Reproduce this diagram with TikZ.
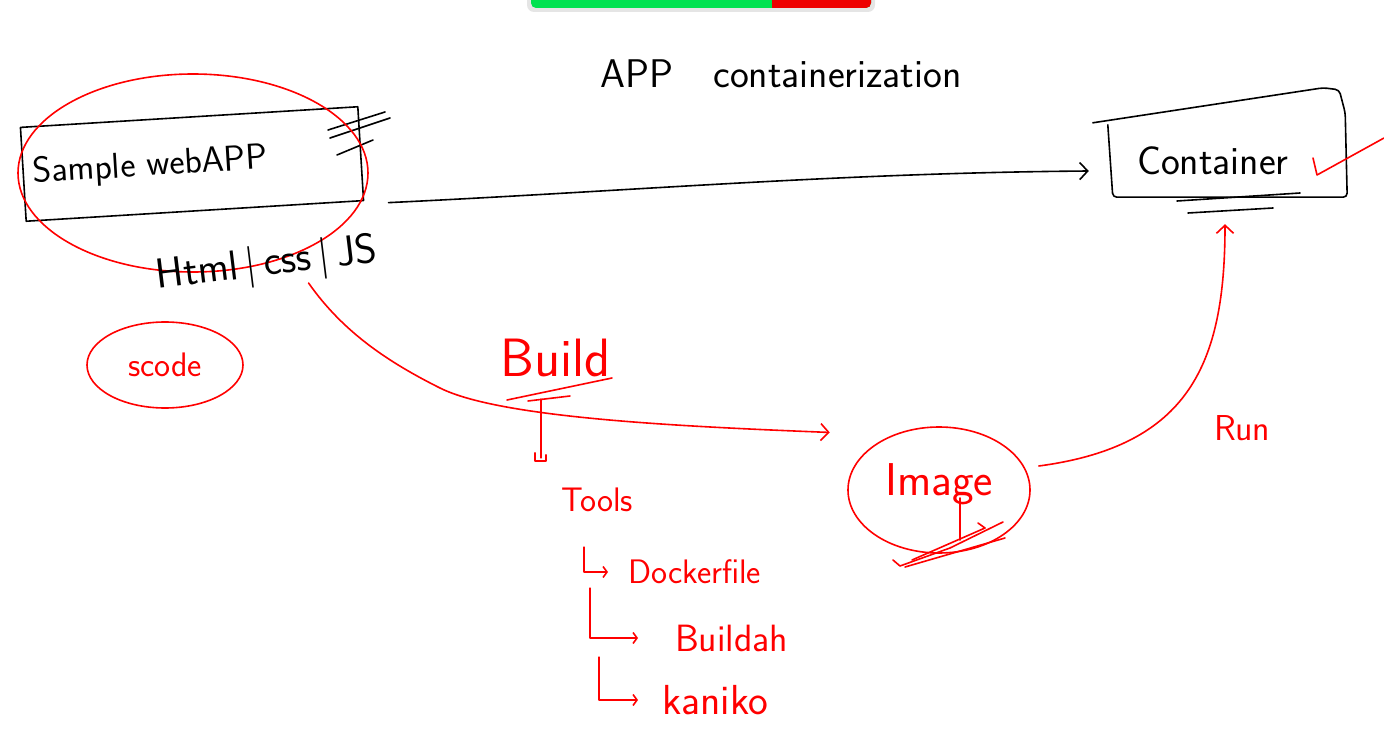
\documentclass[tikz,border=0pt]{standalone}
\usetikzlibrary{positioning,calc,arrows.meta,shapes.geometric}

\definecolor{sharegreen}{RGB}{0,226,80}
\definecolor{sharered}{RGB}{238,0,0}
\newcommand{\handfont}[1]{\sffamily\fontsize{#1}{#1}\selectfont}

\begin{document}
\begin{tikzpicture}[x=1pt,y=-1pt,
  ink/.style={line width=1.6pt,line cap=round,line join=round},
  blackink/.style={ink,black},
  redink/.style={ink,red},
  note/.style={inner sep=0pt},
  barb/.style={-{Straight Barb[length=8pt,width=17pt]}},
  smallbarb/.style={-{Straight Barb[length=4pt,width=11pt]}}]

\useasboundingbox (0,0) rectangle (1384,743);

% Screen sharing bar, cut by the top edge.
\fill[black!10,rounded corners=7pt] (527,-20) rectangle (875,12);
\fill[sharegreen,rounded corners=5pt] (531,-20) rectangle (871,8);
\fill[sharered,rounded corners=5pt] (772,-20) rectangle (871,8);
\fill[sharered] (772,-20) rectangle (790,8);
\node[note,font=\sffamily\fontsize{13}{15}\selectfont,text=green!25!black]
  (sharing) at (651,-6) {You are screen sharing};
\node[note,font=\sffamily\fontsize{13}{15}\selectfont,text=white]
  (stopshare) at (825,-6) {Stop Share};

% Title.
\node[note,font=\handfont{40}] (title) at (781,74) {APP\quad containerization};

% Sample web app box.
\node[blackink,draw,note,font=\handfont{36},rotate=3.5,
  minimum width=338pt,minimum height=94pt,text width=318pt,align=left]
  (webapp) at (192,164) {Sample webAPP};
\draw[blackink] (328,130) -- (385,112);
\draw[blackink] (330,138) -- (390,118);
\draw[blackink] (337,155) -- (373,140);
\draw[redink] (193,173) ellipse [x radius=175, y radius=99];

\node[note,font=\handfont{42},rotate=7] (html) at (267,265) {Html\,|\,css\,|\,JS};

\node[redink,draw,ellipse,note,text=red,font=\handfont{34},
  minimum width=156pt,minimum height=86pt] (code) at (165,365) {scode};

% Container box.
\node[note,font=\handfont{40},minimum width=236pt,minimum height=72pt,
  text width=184pt,align=left] (container) at (1229,161) {Container};
\draw[blackink,rounded corners=4pt]
  ($(container.north west)+(-18,-2)$) -- ($(container.north east)+(-24,-37)$)
  -- ($(container.north east)+(-8,-35)$) -- ($(container.north east)+(-2,-12)$)
  -- (container.south east) -- ($(container.south west)+(2,0)$)
  -- ($(container.north west)+(-3,0)$);
\draw[blackink] (1177,201) -- (1300,193);
\draw[blackink] (1188,213) -- (1273,208);
\draw[redink] (1313,158) -- (1317,175) -- (1384,138);

% Image.
\node[redink,draw,ellipse,note,text=red,font=\handfont{46},
  minimum width=182pt,minimum height=126pt] (image) at (939,490)
  {\raisebox{20pt}{Image}};
\draw[redink] (960,498) -- (960,540);
\draw[redink] (893,560) -- (900,566) -- (950,548) -- (1003,522);
\draw[redink] (905,567) -- (1005,538);
\draw[redink] (912,560) -- (985,528) -- (978,523);

% Web app to container.
\draw[blackink,barb] ([shift={(27,49)}]webapp.east)
  .. controls +(250,-12) and +(-250,2) .. ([shift={(-22,10)}]container.west);

% Build.
\node[note,text=red,font=\handfont{54}] (build) at (556,358) {Build};
\draw[redink] (507,400) -- (612,378);
\draw[redink] (528,401) -- (570,396);
\coordinate (buildbend) at (440,388);
\draw[redink,barb] ([shift={(39,-3)}]html.south)
  .. controls +(35,50) and +(-50,-25) .. (buildbend)
  .. controls +(60,30) and +(-150,-6) .. ([shift={(-33,-22)}]image.155);

% Tools and the tree under it.
\node[note,text=red,font=\handfont{34}] (tools) at (597,500) {Tools};
\coordinate (stemend) at ([shift={(-56,-30)}]tools.north);
\draw[redink] ([shift={(-15,22)}]build.south) -- (stemend);
\draw[redink] (stemend) ++(-6,-5) -- ++(0,8) -- ++(11,0) -- ++(0,-6);

\node[note,text=red,font=\handfont{34},anchor=west] (dockerfile) at (628,572) {Dockerfile};
\node[note,text=red,font=\handfont{38},anchor=west] (buildah) at (675,638) {Buildah};
\node[note,text=red,font=\handfont{42},anchor=west] (kaniko) at (662,700) {kaniko};

\foreach \item/\sx/\sy/\gap in {dockerfile/23/35/20, buildah/29/76/37, kaniko/38/145/24}
  \draw[redink,smallbarb] ([shift={(\sx,\sy)}]tools.south west) |- ([xshift=-\gap pt]\item.west);

% Run.
\draw[redink,barb] ([shift={(8,-24)}]image.east)
  .. controls +(150,-20) and +(0,140) .. ([shift={(-4,27)}]container.south);
\node[note,text=red,font=\handfont{36}] (run) at (1242,428) {Run};

\end{tikzpicture}
\end{document}
